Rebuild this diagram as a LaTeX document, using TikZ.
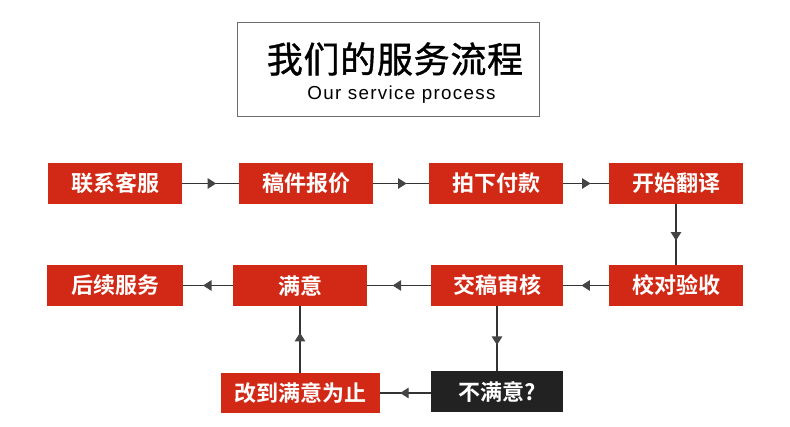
\documentclass[tikz,border=0pt]{standalone}
\usepackage{fontspec}
\setmainfont{Liberation Sans}
\newfontfamily\cjk[LetterSpace=2,FakeBold=1]{Noto Sans CJK SC}
\newfontfamily\cjkb{Noto Sans CJK SC Bold}
\newfontfamily\latin[LetterSpace=7]{Liberation Sans}
\usetikzlibrary{arrows.meta,decorations.markings}
\definecolor{boxred}{HTML}{D12915}
\definecolor{boxdark}{HTML}{222222}
\definecolor{linegray}{HTML}{333333}
\definecolor{tipgray}{HTML}{444444}
\tikzset{
  stepbox/.style={fill=boxred, text=white, minimum width=134pt, minimum height=41pt,
    inner sep=0pt, font=\cjkb\fontsize{22}{22}\selectfont},
  darkbox/.style={stepbox, fill=boxdark},
  flow/.style={draw=linegray, line width=1.2pt,
    postaction={decorate, decoration={markings,
      mark=at position 0.6 with {\arrow[tipgray]{Triangle[length=8.5pt,width=10.5pt]}}}}},
}
\begin{document}
\begin{tikzpicture}[x=1pt,y=-1pt]
\useasboundingbox (0,0) rectangle (790,427);
\fill[white] (0,0) rectangle (790,427);
% title
\node[draw=gray!85!black, line width=1pt, minimum width=302pt, minimum height=94pt, inner sep=0pt] (title) at (388,70) {};
\node[font=\cjk\fontsize{36}{36}\selectfont, inner sep=0pt] (tcn) at (395,59) {我们的服务流程};
\node[font=\latin\fontsize{18.8}{18.8}\selectfont, inner sep=0pt] (ten) at (401.5,95) {Our service process};
% boxes
\node[stepbox] (b1) at (115,183.5) {联系客服};
\node[stepbox] (b2) at (306,183.5) {稿件报价};
\node[stepbox] (b3) at (496,183.5) {拍下付款};
\node[stepbox] (b4) at (676,183.5) {开始翻译};
\node[stepbox] (b5) at (676,285.5) {校对验收};
\node[stepbox, minimum width=132pt] (b6) at (497,285.5) {交稿审核};
\node[stepbox] (b7) at (300,285.5) {满意};
\node[stepbox, minimum width=136pt] (b8) at (115,285.5) {后续服务};
\node[stepbox, minimum width=159pt, minimum height=40pt] (b9) at (300,393) {改到满意为止};
\node[darkbox, minimum width=132pt] (b10) at (497,391.5) {不满意?};
% connectors
\draw[flow] (b1) -- (b2);
\draw[flow] (b2) -- (b3);
\draw[flow] (b3) -- (b4);
\draw[flow] (b4) -- (b5);
\draw[flow] (b5) -- (b6);
\draw[flow] (b6) -- (b7);
\draw[flow] (b7) -- (b8);
\draw[flow] (b6) -- (b10);
\draw[flow] (b10.west |- b9) -- (b9);
\draw[flow] (b9) -- (b7);
\end{tikzpicture}
\end{document}
